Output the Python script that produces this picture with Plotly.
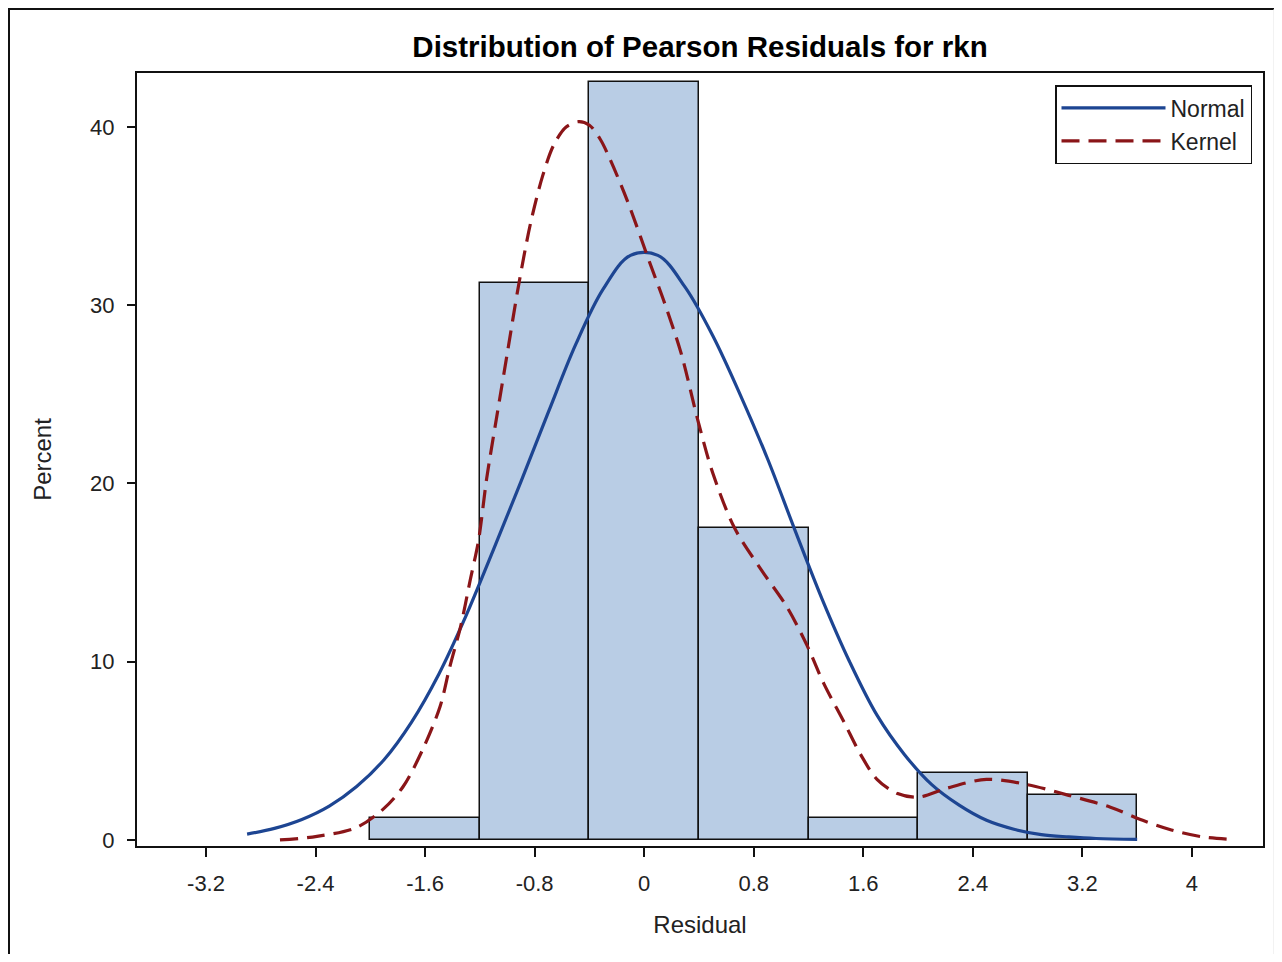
import plotly.graph_objects as go

# Histogram bins (midpoints) and percents
bin_mid = [-1.6, -0.8, 0.0, 0.8, 1.6, 2.4, 3.2]
bin_pct = [1.25, 31.25, 42.5, 17.5, 1.25, 3.75, 2.5]
bin_width = 0.8

# Normal density curve (percent)
normal_x = [-2.9, -2.7, -2.5, -2.3, -2.1, -1.9, -1.7, -1.5, -1.3, -1.1, -0.9, -0.7, -0.5,
            -0.3, -0.1, 0.1, 0.3, 0.5, 0.7, 0.9, 1.1, 1.3, 1.5, 1.7, 1.9, 2.1, 2.3, 2.5,
            2.7, 2.9, 3.1, 3.3, 3.6]
normal_y = [0.33, 0.65, 1.15, 1.9, 3.0, 4.5, 6.6, 9.3, 12.6, 16.3, 20.1, 24.0, 27.8,
            30.9, 32.8, 32.8, 31.0, 28.3, 25.0, 21.4, 17.4, 13.5, 10.0, 7.0, 4.8, 3.1, 1.95, 1.1,
            0.6, 0.3, 0.17, 0.08, 0.03]

# Kernel density curve (percent)
kernel_x = [-2.66, -2.39, -2.10, -1.91, -1.76, -1.61, -1.49, -1.42, -1.34, -1.27, -1.21, -1.15,
            -1.08, -1.00, -0.92, -0.83, -0.74, -0.66, -0.57, -0.48, -0.40, -0.32, -0.25, -0.12,
            0.04, 0.15, 0.27, 0.39, 0.50, 0.66, 0.86, 1.04, 1.19, 1.31, 1.46, 1.58, 1.70,
            1.85, 2.00, 2.21, 2.50, 2.80, 3.10, 3.40, 3.64, 3.85, 4.08, 4.30]
kernel_y = [0.0, 0.2, 0.7, 1.7, 3.0, 5.2, 7.5, 9.7, 12.0, 14.6, 16.8, 20.3,
            23.6, 27.3, 31.0, 34.6, 37.3, 39.0, 40.0, 40.3, 40.1, 39.3, 38.2, 35.8,
            32.4, 30.1, 27.3, 23.6, 20.6, 17.5, 15.1, 13.1, 10.9, 8.8, 6.6, 4.8, 3.4,
            2.6, 2.4, 2.9, 3.4, 3.1, 2.5, 1.85, 1.1, 0.56, 0.17, 0.03]

x_ticks = [-3.2, -2.4, -1.6, -0.8, 0, 0.8, 1.6, 2.4, 3.2, 4]
x_tick_text = ["-3.2", "-2.4", "-1.6", "-0.8", "0", "0.8", "1.6", "2.4", "3.2", "4"]
y_ticks = [0, 10, 20, 30, 40]

FONT = "Liberation Sans, Arial, sans-serif"
OFF = 8  # page body margin
W, H = 1282 - OFF, 962 - 2 * OFF
L, T = 137 - OFF, 73 - OFF
R = W - (1263 - OFF)
B = H - (846 - OFF)
PW, PH = W - L - R, H - T - B


def pxx(page_px):
    return (page_px - OFF - L) / PW


def pxy(page_py):
    return (H - B - (page_py - OFF)) / PH


fig = go.Figure()
fig.add_trace(go.Bar(
    x=bin_mid, y=bin_pct, width=bin_width,
    marker=dict(color="#b9cde5", line=dict(color="#111111", width=1.5)),
    showlegend=False, hoverinfo="skip"))
fig.add_trace(go.Scatter(
    x=normal_x, y=normal_y, mode="lines", name="Normal",
    line=dict(color="#1d4592", width=3.2, shape="spline", smoothing=1.0)))
fig.add_trace(go.Scatter(
    x=kernel_x, y=kernel_y, mode="lines", name="Kernel",
    line=dict(color="#8a1518", width=3.2, dash="18px,9px", shape="spline", smoothing=0.9)))

shapes = [
    dict(type="line", xref="paper", yref="paper",
         x0=pxx(OFF + 1), x1=pxx(OFF + 1), y0=pxy(OFF), y1=pxy(OFF + H),
         line=dict(color="#111111", width=2)),
    dict(type="line", xref="paper", yref="paper",
         x0=pxx(OFF), x1=pxx(1274), y0=pxy(OFF + 1), y1=pxy(OFF + 1),
         line=dict(color="#111111", width=2)),
    dict(type="line", xref="paper", yref="paper",
         x0=pxx(1274), x1=pxx(1274), y0=pxy(OFF + 1), y1=pxy(OFF + H),
         line=dict(color="#e4e4e4", width=1)),
]

fig.update_layout(
    width=W, height=H,
    margin=dict(l=L, r=R, t=T, b=B),
    paper_bgcolor="white", plot_bgcolor="white",
    font=dict(family=FONT, color="#222222"),
    title=dict(text="<b>Distribution of Pearson Residuals for rkn</b>",
               x=0.5, xref="paper", xanchor="center",
               y=1 - (47 - OFF) / H, yref="container", yanchor="middle",
               font=dict(size=29.5, color="#000000", family=FONT)),
    bargap=0,
    showlegend=True,
    legend=dict(x=pxx(1252), xanchor="right", y=pxy(85), yanchor="top",
                bgcolor="white", bordercolor="#111111", borderwidth=1.5,
                font=dict(size=23, family=FONT, color="#222222"),
                itemwidth=104, tracegroupgap=0),
    shapes=shapes,
)
fig.update_xaxes(
    range=[-3.704, 4.519], tickmode="array", tickvals=x_ticks, ticktext=x_tick_text,
    ticks="outside", ticklen=9, tickwidth=1.5, tickcolor="#111111",
    showline=True, linecolor="#111111", linewidth=2, mirror=True,
    showgrid=False, zeroline=False, ticklabelstandoff=8,
    tickfont=dict(size=22, family=FONT, color="#222222"),
    title=dict(text="Residual", font=dict(size=24, family=FONT, color="#222222"), standoff=21),
)
fig.update_yaxes(
    range=[-0.34, 43.03], tickmode="array", tickvals=y_ticks,
    ticks="outside", ticklen=8, tickwidth=1.5, tickcolor="#111111",
    showline=True, linecolor="#111111", linewidth=2, mirror=True,
    showgrid=False, zeroline=False, ticklabelstandoff=8,
    tickfont=dict(size=22, family=FONT, color="#222222"),
    title=dict(text="Percent", font=dict(size=24, family=FONT, color="#222222"), standoff=32),
)

fig.write_html("out.html")
